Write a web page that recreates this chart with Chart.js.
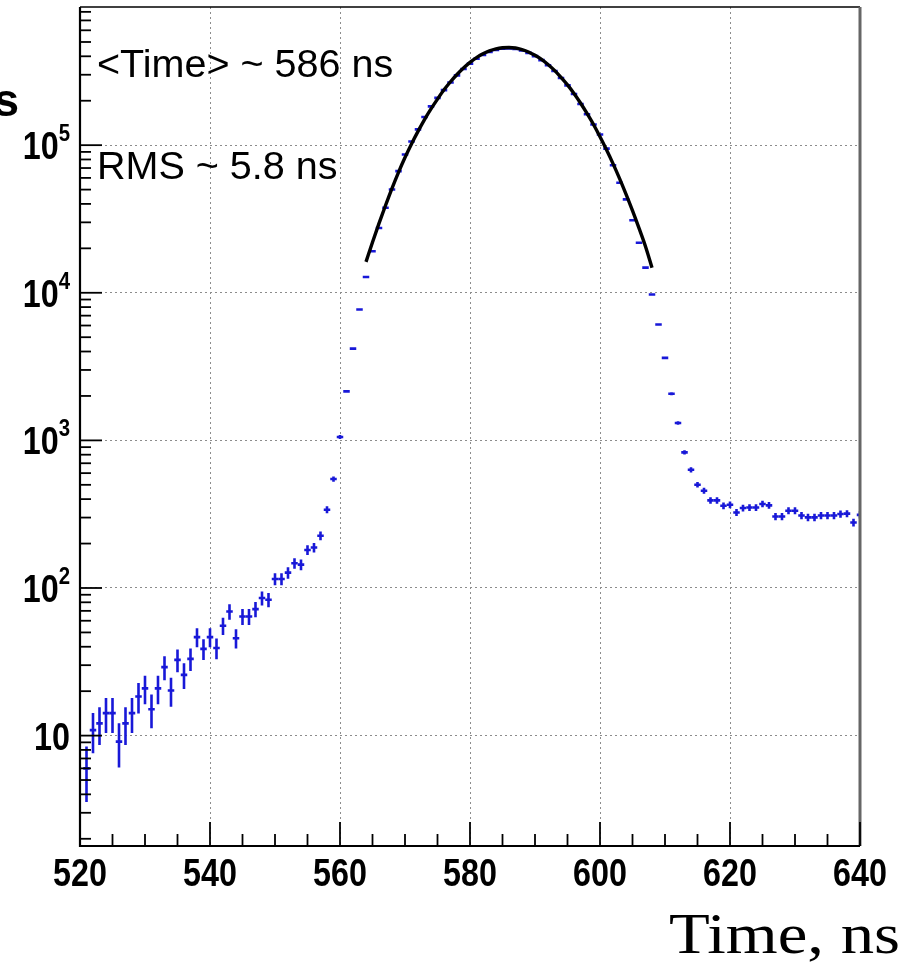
<!DOCTYPE html>
<html>
<head>
<meta charset="utf-8">
<script src="https://cdn.jsdelivr.net/npm/chart.js@4.4.0/dist/chart.umd.min.js"></script>
<style>
html, body { margin: 0; padding: 0; background: #fff; }
#wrap { position: relative; width: 905px; height: 970px; }
</style>
</head>
<body>
<div id="wrap"><canvas id="chart1"></canvas></div>
<script>
// bin centres (ns), 1 ns bins
binTimes = [
  521,522,523,524,525,526,527,528,529,530,531,532,533,534,535,536,537,538,539,540,
  541,542,543,544,545,546,547,548,549,550,551,552,553,554,555,556,557,558,559,560,
  561,562,563,564,565,566,567,568,569,570,571,572,573,574,575,576,577,578,579,580,
  581,582,583,584,585,586,587,588,589,590,591,592,593,594,595,596,597,598,599,600,
  601,602,603,604,605,606,607,608,609,610,611,612,613,614,615,616,617,618,619,620,
  621,622,623,624,625,626,627,628,629,630,631,632,633,634,635,636,637,638,639,640
]
// counts per bin
counts = [
  6.0,10.9,12.1,14.2,14.2,9.1,12.1,14.2,18.4,20.9,15.1,20.9,29.1,20.2,32.6,25.8,33.1,46.5,38.7,46.5,
  39.2,55.5,69.3,45.7,64.1,64.1,71.9,85.5,83.2,115,115,127,147,144,181,188,226,339,547,1054,
  2148,4185,7700,12800,19100,27500,37700,50100,66700,86500,106000,128000,155000,183000,209000,236000,266000,297000,328000,357000,
  385000,408000,428000,441000,450000,452000,449000,438000,422000,401000,377000,348000,318000,285000,254000,222000,190000,162000,138000,118000,
  94800,73100,55600,42900,31000,21800,14800,9730,6090,3620,2070,1310,830,632,501,456,392,392,361,366,
  325,348,351,351,371,363,305,305,334,334,310,301,301,310,310,310,317,319,278,313
]
// gaussian fit drawn over the peak
fitTimes = [564,565,566,567,568,569,570,571,572,573,574,575,576,577,578,579,580,581,582,583,584,585,586,
  587,588,589,590,591,592,593,594,595,596,597,598,599,600,601,602,603,604,605,606,607,608]
fitValues = [16200,22000,29500,39000,51000,65500,82500,102000,124000,149000,176000,205000,237000,269000,301000,333000,364000,392000,416000,435000,449000,457000,459000,
  455000,444000,428000,406000,381000,352000,321000,288000,256000,224000,193000,164000,138000,114000,93000,75000,59600,46600,36000,27400,20600,14800]

xTicks = [520,540,560,580,600,620,640]
yTicks = [10,100,1000,10000,100000]
yTickLabels = [['10',''],['10','2'],['10','3'],['10','4'],['10','5']]
statLines = ['<Time> ~ 586 ns','RMS ~ 5.8 ns']
xTitle = 'Time, ns'

const histPoints = binTimes.map((t, i) => ({x: t, y: counts[i]}))
const fitPoints = fitTimes.map((t, i) => ({x: t, y: fitValues[i]}))

const labelFont = 'bold 38px "Liberation Sans", Arial, sans-serif'
const supFont = 'bold 24px "Liberation Sans", Arial, sans-serif'

// text squeezed or stretched sideways, anchored at x
function putText(ctx, text, x, y, align, sx) {
  ctx.save()
  ctx.translate(x, y)
  ctx.scale(sx, 1)
  ctx.textAlign = align
  ctx.fillText(text, 0, 0)
  ctx.restore()
}

const rootStyle = {
  id: 'rootStyle',
  // blue points with poisson error bars, under the fit line
  beforeDatasetsDraw(chart) {
    const {ctx, chartArea: a, scales: {x, y}} = chart
    ctx.save()
    ctx.beginPath()
    ctx.rect(a.left, a.top, a.right - a.left, a.bottom - a.top)
    ctx.clip()
    ctx.strokeStyle = '#1818d8'
    ctx.lineWidth = 2.6
    chart.data.datasets[1].data.forEach(p => {
      const err = Math.sqrt(p.y)
      const px = x.getPixelForValue(p.x)
      const py = y.getPixelForValue(p.y)
      ctx.beginPath()
      ctx.moveTo(x.getPixelForValue(p.x - 0.5), py)
      ctx.lineTo(x.getPixelForValue(p.x + 0.5), py)
      ctx.moveTo(px, y.getPixelForValue(p.y + err))
      ctx.lineTo(px, y.getPixelForValue(Math.max(p.y - err, 1)))
      ctx.stroke()
    })
    ctx.restore()
  },
  afterDraw(chart) {
    const {ctx, chartArea: a, scales: {x, y}} = chart
    ctx.save()
    // frame
    ctx.strokeStyle = '#000'
    ctx.lineWidth = 1.5
    ctx.beginPath(); ctx.moveTo(a.left, a.top); ctx.lineTo(a.right, a.top); ctx.stroke()
    ctx.strokeStyle = '#666'
    ctx.lineWidth = 3
    ctx.beginPath(); ctx.moveTo(a.right, a.top); ctx.lineTo(a.right, a.bottom); ctx.stroke()
    ctx.strokeStyle = '#000'
    ctx.lineWidth = 2.2
    ctx.beginPath()
    ctx.moveTo(a.left, a.top); ctx.lineTo(a.left, a.bottom); ctx.lineTo(a.right, a.bottom)
    ctx.stroke()

    // x ticks, inside, major every 20 minor every 5
    ctx.lineWidth = 1.8
    for (let t = 520; t <= 640; t += 5) {
      const px = x.getPixelForValue(t)
      const len = t % 20 === 0 ? 24 : 12
      ctx.beginPath(); ctx.moveTo(px, a.bottom); ctx.lineTo(px, a.bottom - len); ctx.stroke()
    }
    // y ticks, log minor
    for (let d = 1; d <= 1e5; d *= 10) {
      for (let m = 1; m <= 9; m++) {
        const v = m * d
        if (v < y.min || v > y.max) continue
        const py = y.getPixelForValue(v)
        const len = m === 1 ? 22 : 11
        ctx.beginPath(); ctx.moveTo(a.left, py); ctx.lineTo(a.left + len, py); ctx.stroke()
      }
    }

    // tick labels
    ctx.fillStyle = '#000'
    ctx.textBaseline = 'alphabetic'
    ctx.font = labelFont
    xTicks.forEach(t => putText(ctx, String(t), x.getPixelForValue(t), 886, 'center', 0.85))

    yTicks.forEach((v, i) => {
      const py = y.getPixelForValue(v)
      const [base, sup] = yTickLabels[i]
      ctx.font = supFont
      const sw = sup ? ctx.measureText(sup).width * 0.85 : 0
      if (sup) putText(ctx, sup, 70, py - 4, 'right', 0.85)
      ctx.font = labelFont
      putText(ctx, base, 70 - sw, py + 14, 'right', 0.85)
    })

    // cut-off y title
    ctx.font = 'bold 46px "Liberation Sans", Arial, sans-serif'
    ctx.textAlign = 'right'
    ctx.fillText('s', 19, 116)

    // stats text
    ctx.font = '38px "Liberation Sans", Arial, sans-serif'
    putText(ctx, statLines[0], 97, 77, 'left', 1.04)
    putText(ctx, statLines[1], 97, 179, 'left', 1.04)

    // x title
    ctx.font = '58px "Liberation Serif", "Times New Roman", serif'
    putText(ctx, xTitle, 900, 953, 'right', 1.15)
    ctx.restore()
  }
}

const gridOpts = {
  color: '#8c8c8c',
  lineWidth: 1,
  drawTicks: false
}

const ctx1 = document.getElementById('chart1').getContext('2d')
const myChart = new Chart(ctx1, {
  type: 'scatter',
  data: {
    datasets: [{
      label: 'fit',
      data: fitPoints,
      showLine: true,
      borderColor: '#000',
      borderWidth: 3.4,
      pointRadius: 0,
      cubicInterpolationMode: 'monotone'
    }, {
      label: 'counts',
      data: histPoints,
      pointRadius: 0,
      showLine: false
    }]
  },
  options: {
    animation: false,
    responsive: true,
    maintainAspectRatio: false,
    layout: { padding: { left: 80, right: 45, top: 7, bottom: 124 } },
    plugins: { legend: { display: false }, tooltip: { enabled: false } },
    scales: {
      x: {
        type: 'linear',
        min: 520,
        max: 640,
        afterFit: s => { s.height = 0 },
        ticks: { display: false, stepSize: 20 },
        grid: gridOpts,
        border: { display: false, dash: [2, 3] }
      },
      y: {
        type: 'logarithmic',
        min: 1.787,
        max: 863000,
        afterFit: s => { s.width = 0 },
        afterBuildTicks: s => { s.ticks = yTicks.map(v => ({ value: v })) },
        ticks: { display: false },
        grid: gridOpts,
        border: { display: false, dash: [2, 3] }
      }
    }
  },
  plugins: [rootStyle]
})
</script>
</body>
</html>
